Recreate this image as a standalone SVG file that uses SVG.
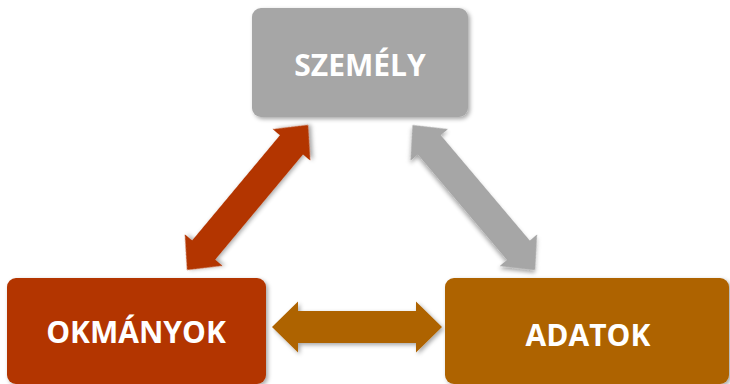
<svg xmlns="http://www.w3.org/2000/svg" width="730" height="384" viewBox="0 0 730 384">
<defs>
<filter id="sh" x="-10%" y="-10%" width="125%" height="125%">
<feDropShadow dx="2" dy="2" stdDeviation="2" flood-color="#000" flood-opacity="0.35"/>
</filter>
<style>
.lbl{font-family:"Open Sans","Liberation Sans",sans-serif;font-weight:bold;font-size:30px;fill:#fff;text-anchor:middle}
.box{filter:url(#sh)}
.arr{filter:url(#sh)}
</style>
</defs>
<rect width="730" height="384" fill="#fff"/>
<g id="connectors">
<polygon class="arr" fill="#B33600" transform="translate(187,270) rotate(-50.15)" points="0,0 26,-24.5 26,-15 163,-15 163,-24.5 189,0 163,24.5 163,15 26,15 26,24.5"/>
<polygon class="arr" fill="#A6A6A6" transform="translate(412.5,125) rotate(49.8)" points="0,0 26,-24.5 26,-15 164,-15 164,-24.5 190,0 164,24.5 164,15 26,15 26,24.5"/>
<polygon class="arr" fill="#AE6300" transform="translate(272,327)" points="0,0 26,-25.5 26,-16 144,-16 144,-25.5 170,0 144,25.5 144,16 26,16 26,25.5"/>
</g>
<g id="szemely">
<rect class="box" x="252" y="8" width="216" height="109" rx="9" fill="#A6A6A6"/>
<text class="lbl" x="360" y="76">SZEMÉLY</text>
</g>
<g id="okmanyok">
<rect class="box" x="7" y="278" width="259" height="106" rx="9" fill="#B33600"/>
<text class="lbl" x="136" y="343">OKMÁNYOK</text>
</g>
<g id="adatok">
<rect class="box" x="445" y="278" width="284" height="106" rx="9" fill="#AE6300"/>
<text class="lbl" x="588" y="346">ADATOK</text>
</g>
</svg>
